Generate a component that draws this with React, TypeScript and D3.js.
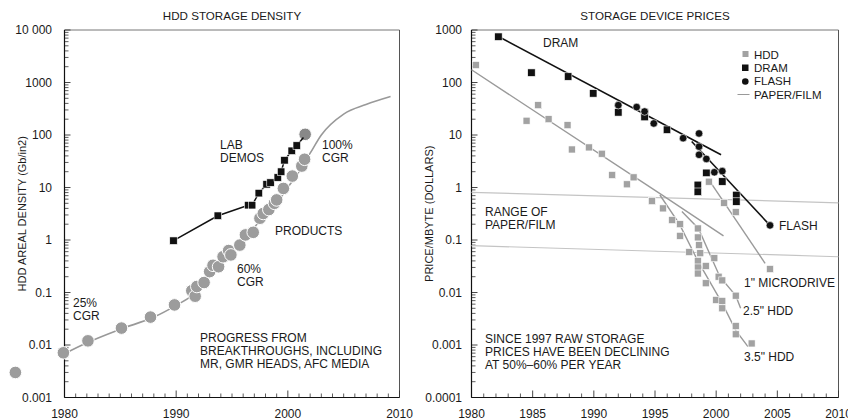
import React from "react";
import * as d3 from "d3";

// ---------- LEFT CHART DATA ----------
const productYears = [1975.6, 1979.9, 1982.1, 1985.1, 1987.7, 1989.85, 1991.4, 1991.7, 1991.85, 1992.5, 1993.0, 1993.3, 1993.8, 1994.2, 1994.7, 1994.9, 1995.7, 1996.2, 1996.9, 1997.5, 1997.8, 1998.3, 1998.8, 1999.0, 1999.6, 2000.4, 2001.25, 2001.5];
const productValues = [0.003, 0.0071, 0.012, 0.021, 0.034, 0.058, 0.108, 0.085, 0.13, 0.155, 0.25, 0.33, 0.31, 0.48, 0.63, 0.52, 0.8, 1.25, 1.4, 2.6, 3.2, 3.8, 5, 5.8, 9.6, 16.5, 25.6, 34.5];
const productTopYear = 2001.55;
const productTopValue = 103;

const trendYears = [1980, 1982, 1985, 1988, 1990, 1991.5, 1993, 1994.5, 1996, 1997.5, 1999, 2000, 2001, 2002, 2003, 2005, 2007, 2009.2];
const trendValues = [0.0068, 0.011, 0.02, 0.034, 0.057, 0.09, 0.2, 0.45, 1.0, 2.3, 5, 10, 20, 45, 100, 250, 380, 540];

const labYears = [1989.76, 1993.73, 1996.45, 1996.8, 1997.4, 1998.1, 1998.45, 1999.1, 1999.4, 1999.7, 2000.35, 2000.8];
const labValues = [0.97, 2.9, 4.6, 4.6, 7.8, 11.5, 12.4, 15.5, 20, 33, 50, 63];
const labLineEnd: [number, number] = [2001.4, 90];

const leftYTicks = [0.001, 0.01, 0.1, 1, 10, 100, 1000, 10000];
const leftYTickLabels = ["0.001", "0.01", "0.1", "1", "10", "100", "1000", "10 000"];
const leftXTicks = [1980, 1990, 2000, 2010];

// ---------- RIGHT CHART DATA ----------
const hddYears = [1980.35, 1984.5, 1985.45, 1986.3, 1987.85, 1988.2, 1989.6, 1990.65, 1991.5, 1992.7, 1993.25, 1994.75, 1995.65, 1996.4, 1997.05, 1997.05, 1997.8, 1998.5, 1998.5, 1998.6, 1998.7, 1998.5, 1998.5, 1998.5, 1999.15, 1999.15, 1999.4, 1999.85, 2000.2, 2000.5, 2000.0, 2000.5, 2000.5, 2000.65, 2001.6, 2001.6, 2001.6, 2001.6, 2002.9, 2004.4];
const hddValues = [215, 18.7, 37, 20, 15.4, 5.3, 5.8, 4.4, 1.73, 1.15, 1.56, 0.55, 0.4, 0.24, 0.2, 0.12, 0.059, 0.166, 0.112, 0.08, 0.056, 0.04, 0.03, 0.023, 0.032, 0.015, 1.29, 0.045, 0.02, 0.017, 0.0072, 0.0069, 0.005, 0.51, 0.34, 0.0087, 0.0023, 0.0016, 0.00107, 0.028];

const dramYears = [1982.2, 1984.9, 1987.9, 1989.95, 1992.0, 1994.15, 1994.15, 1995.98, 1998.5, 1998.5, 1999.2, 2000.5, 2001.65, 2001.65];
const dramValues = [745, 154, 130, 62, 27, 27, 22, 12.6, 1.12, 0.83, 1.9, 1.3, 0.72, 0.54];

const flashYears = [1992.0, 1993.5, 1994.15, 1994.9, 1997.3, 1998.6, 1998.6, 1998.6, 1999.2, 1999.85, 2000.5, 2004.4];
const flashValues = [37, 34, 28, 16.6, 8.7, 10.7, 6, 4.2, 3.5, 1.95, 2.05, 0.19];

const dramLineYears = [1982.2, 2000.4];
const dramLineValues = [750, 4.2];
const flashLineYears = [1998.0, 2004.4];
const flashLineValues = [7.5, 0.19];

const hddMainLineYears = [1980, 1995.5, 2000.6];
const hddMainLineValues = [175, 0.74, 0.12];
const hdd35LineYears = [1995.4, 1997.0, 1998.5, 2000.5, 2001.6, 2002.6];
const hdd35LineValues = [0.72, 0.2, 0.04, 0.0062, 0.0019, 0.00093];
const hdd25LineYears = [1997.2, 1998.55, 2000.3, 2001.6, 2002.0];
const hdd25LineValues = [0.35, 0.166, 0.02, 0.0087, 0.005];
const microLineYears = [1999.5, 2004.0];
const microLineValues = [1.3, 0.036];

const paperHighYears = [1980, 2010];
const paperHighValues = [0.81, 0.51];
const paperLowYears = [1980, 2010];
const paperLowValues = [0.078, 0.048];

const rightYTicks = [0.0001, 0.001, 0.01, 0.1, 1, 10, 100, 1000];
const rightYTickLabels = ["0.0001", "0.001", "0.01", "0.1", "1", "10", "100", "1000"];
const rightXTicks = [1980, 1985, 1990, 1995, 2000, 2005, 2010];

const legendLabels = ["HDD", "DRAM", "FLASH", "PAPER/FILM"];

// ---------- LAYOUT ----------
const W = 848;
const H = 420;
const yTop = 30;
const yBot = 397.5;
const FONT = "'Liberation Sans', Arial, Helvetica, sans-serif";
const TXT = "#1a1a1a";
const FS = 12;

function zip(a: number[], b: number[]): [number, number][] {
  return a.map((v, i) => [v, b[i]]);
}

function minorLogTicks(lo: number, hi: number): number[] {
  const out: number[] = [];
  for (let e = lo; e < hi; e++) {
    for (let m = 2; m <= 9; m++) out.push(m * Math.pow(10, e));
  }
  return out;
}

function Frame({ x, y, x0, x1, yMinor, yMajor, yLabels, xMinor, xMajor, labelX, yLabelStr, labelRotX, title }: any) {
  return (
    <g>
      <line x1={x0} x2={x1} y1={yTop} y2={yTop} stroke="#777" strokeWidth={1} />
      <line x1={x1} x2={x1} y1={yTop} y2={yBot} stroke="#555" strokeWidth={1} />
      {yMinor.map((v: number, i: number) => (
        <line key={"ym" + i} x1={x0} x2={x0 + 4} y1={y(v)} y2={y(v)} stroke="#333" strokeWidth={0.8} />
      ))}
      {yMajor.map((v: number, i: number) => (
        <line key={"yM" + i} x1={x0} x2={x0 + 6} y1={y(v)} y2={y(v)} stroke="#333" strokeWidth={0.9} />
      ))}
      {yMajor.map((v: number, i: number) => (
        <text key={"yl" + i} x={labelX} y={y(v)} dy="0.35em" textAnchor="end" fontSize={FS} fill={TXT} fontFamily={FONT}>
          {yLabels[i]}
        </text>
      ))}
      {xMinor.map((v: number, i: number) => (
        <line key={"xm" + i} x1={x(v)} x2={x(v)} y1={yBot} y2={yBot - 4} stroke="#333" strokeWidth={0.8} />
      ))}
      {xMajor.map((v: number, i: number) => (
        <g key={"xM" + i}>
          <line x1={x(v)} x2={x(v)} y1={yBot} y2={yBot - 7} stroke="#333" strokeWidth={0.9} />
          <text x={x(v)} y={417.5} textAnchor="middle" fontSize={FS} fill={TXT} fontFamily={FONT}>
            {v}
          </text>
        </g>
      ))}
      <line x1={x0} x2={x0} y1={yTop} y2={yBot} stroke="#111" strokeWidth={1.2} />
      <line x1={x0} x2={x1} y1={yBot} y2={yBot} stroke="#111" strokeWidth={1.2} />
      <text x={(x0 + x1) / 2} y={20} textAnchor="middle" fontSize={11.6} fill={TXT} fontFamily={FONT}>
        {title}
      </text>
      <text
        transform={`translate(${labelRotX},${(yTop + yBot) / 2}) rotate(-90)`}
        textAnchor="middle"
        dy="0.35em"
        fontSize={11}
        fill={TXT}
        fontFamily={FONT}
      >
        {yLabelStr}
      </text>
    </g>
  );
}

function MultiText({ x, y, lines, lh = 13 }: { x: number; y: number; lines: string[]; lh?: number }) {
  return (
    <text x={x} y={y} fontSize={FS} fill={TXT} fontFamily={FONT}>
      {lines.map((l, i) => (
        <tspan key={i} x={x} dy={i === 0 ? 0 : lh}>
          {l}
        </tspan>
      ))}
    </text>
  );
}

export default function App() {
  const lx = d3.scaleLinear().domain([1980, 2010]).range([64.5, 399.5]);
  const ly = d3.scaleLog().domain([0.001, 10000]).range([yBot, yTop]);
  const rx = d3.scaleLinear().domain([1980, 2010]).range([471.5, 838.5]);
  const ry = d3.scaleLog().domain([0.0001, 1000]).range([yBot, yTop]);

  const lLine = d3.line<[number, number]>().x((d) => lx(d[0])).y((d) => ly(d[1]));
  const lCurve = d3.line<[number, number]>().x((d) => lx(d[0])).y((d) => ly(d[1])).curve(d3.curveMonotoneX);
  const rLine = d3.line<[number, number]>().x((d) => rx(d[0])).y((d) => ry(d[1]));

  const leftXMinor = d3.range(1981, 2010).filter((v) => v % 10 !== 0);
  const rightXMinor = d3.range(1981, 2010).filter((v) => v % 5 !== 0);

  const products = zip(productYears, productValues);
  const labs = zip(labYears, labValues);
  const hdd = zip(hddYears, hddValues);
  const dram = zip(dramYears, dramValues);
  const flash = zip(flashYears, flashValues);

  const SQ = 7.5;
  const HSQ = 7;

  return (
    <svg width={W} height={H} style={{ display: "block", position: "absolute", left: 0, top: 0, background: "#fff" }}>
      <rect x={0} y={0} width={W} height={H} fill="#fff" />
      {/* ===== LEFT ===== */}
      <Frame
        x={lx}
        y={ly}
        x0={64.5}
        x1={399.5}
        yMinor={minorLogTicks(-3, 4)}
        yMajor={leftYTicks}
        yLabels={leftYTickLabels}
        xMinor={leftXMinor}
        xMajor={leftXTicks}
        labelX={52}
        yLabelStr="HDD AREAL DENSITY (Gb/in2)"
        labelRotX={22}
        title="HDD STORAGE DENSITY"
      />
      <path d={lCurve(zip(trendYears, trendValues)) || ""} fill="none" stroke="#999" strokeWidth={1.6} />
      {products.map((d, i) => (
        <circle key={"p" + i} cx={lx(d[0])} cy={ly(d[1])} r={6.3} fill="#9c9c9c" stroke="#fff" strokeWidth={1} />
      ))}
      <circle cx={lx(productTopYear)} cy={ly(productTopValue)} r={6.3} fill="#888" stroke="#fff" strokeWidth={1} />
      <path d={lLine([...labs, labLineEnd]) || ""} fill="none" stroke="#111" strokeWidth={1.5} />
      {labs.map((d, i) => (
        <rect key={"l" + i} x={lx(d[0]) - SQ / 2} y={ly(d[1]) - SQ / 2} width={SQ} height={SQ} fill="#111" stroke="#fff" strokeWidth={0.6} />
      ))}
      <MultiText x={220} y={149} lines={["LAB", "DEMOS"]} />
      <MultiText x={322} y={149} lines={["100%", "CGR"]} />
      <MultiText x={275} y={235} lines={["PRODUCTS"]} />
      <MultiText x={237} y={273} lines={["60%", "CGR"]} />
      <MultiText x={73} y={307} lines={["25%", "CGR"]} />
      <MultiText x={200} y={342} lines={["PROGRESS FROM", "BREAKTHROUGHS, INCLUDING", "MR, GMR HEADS, AFC MEDIA"]} />

      {/* ===== RIGHT ===== */}
      <Frame
        x={rx}
        y={ry}
        x0={471.5}
        x1={838.5}
        yMinor={minorLogTicks(-4, 3)}
        yMajor={rightYTicks}
        yLabels={rightYTickLabels}
        xMinor={rightXMinor}
        xMajor={rightXTicks}
        labelX={462}
        yLabelStr="PRICE/MBYTE (DOLLARS)"
        labelRotX={429}
        title="STORAGE DEVICE PRICES"
      />
      <path d={rLine(zip(paperHighYears, paperHighValues)) || ""} fill="none" stroke="#c4c4c4" strokeWidth={1.2} />
      <path d={rLine(zip(paperLowYears, paperLowValues)) || ""} fill="none" stroke="#c4c4c4" strokeWidth={1.2} />
      <path d={rLine(zip(hddMainLineYears, hddMainLineValues)) || ""} fill="none" stroke="#9a9a9a" strokeWidth={1.4} />
      <path d={rLine(zip(hdd35LineYears, hdd35LineValues)) || ""} fill="none" stroke="#9a9a9a" strokeWidth={1.4} />
      <path d={rLine(zip(hdd25LineYears, hdd25LineValues)) || ""} fill="none" stroke="#9a9a9a" strokeWidth={1.4} />
      <path d={rLine(zip(microLineYears, microLineValues)) || ""} fill="none" stroke="#9a9a9a" strokeWidth={1.4} />
      {hdd.map((d, i) => (
        <rect key={"h" + i} x={rx(d[0]) - HSQ / 2} y={ry(d[1]) - HSQ / 2} width={HSQ} height={HSQ} fill="#a2a2a2" stroke="#fff" strokeWidth={0.6} />
      ))}
      <path d={rLine(zip(dramLineYears, dramLineValues)) || ""} fill="none" stroke="#111" strokeWidth={1.6} />
      <path d={rLine(zip(flashLineYears, flashLineValues)) || ""} fill="none" stroke="#111" strokeWidth={1.6} />
      {dram.map((d, i) => (
        <rect key={"d" + i} x={rx(d[0]) - SQ / 2} y={ry(d[1]) - SQ / 2} width={SQ} height={SQ} fill="#111" stroke="#fff" strokeWidth={0.6} />
      ))}
      {flash.map((d, i) => (
        <circle key={"f" + i} cx={rx(d[0])} cy={ry(d[1])} r={3.8} fill="#111" stroke="#fff" strokeWidth={0.6} />
      ))}
      <g fontFamily={FONT} fontSize={11.5} fill={TXT}>
        <rect x={742.5} y={51} width={6} height={6} fill="#a2a2a2" />
        <rect x={742} y={64.5} width={6.5} height={6.5} fill="#111" />
        <circle cx={745.3} cy={81.5} r={3.3} fill="#111" />
        <line x1={737.5} x2={749.5} y1={94.5} y2={94.5} stroke="#999" strokeWidth={1} />
        {legendLabels.map((l, i) => (
          <text key={l} x={754} y={54.5 + i * 13.4} dy="0.35em">
            {l}
          </text>
        ))}
      </g>
      <MultiText x={543} y={47} lines={["DRAM"]} />
      <MultiText x={779} y={230} lines={["FLASH"]} />
      <MultiText x={485} y={216} lines={["RANGE OF", "PAPER/FILM"]} />
      <MultiText x={744} y={287} lines={["1\" MICRODRIVE"]} />
      <MultiText x={743} y={315} lines={["2.5\" HDD"]} />
      <MultiText x={744} y={361} lines={["3.5\" HDD"]} />
      <MultiText x={485} y={343} lines={["SINCE 1997 RAW STORAGE", "PRICES HAVE BEEN DECLINING", "AT 50%\u201360% PER YEAR"]} />
    </svg>
  );
}
